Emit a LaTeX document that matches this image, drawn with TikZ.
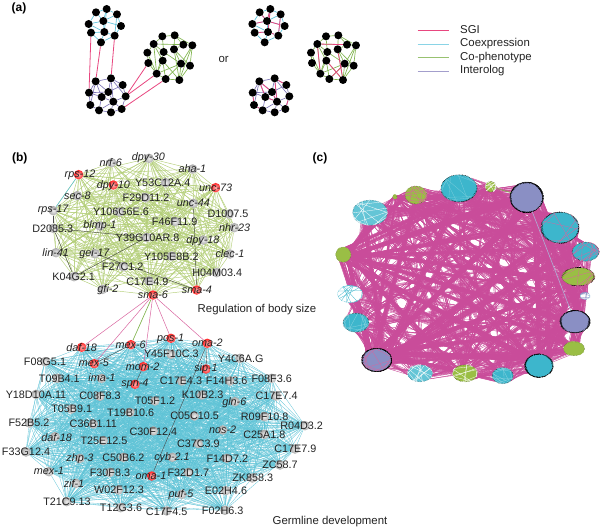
\documentclass[tikz,border=0pt]{standalone}
\usepackage{fontspec}
\setmainfont{Liberation Sans}
\usepackage{xcolor}
\definecolor{sgipink}{HTML}{E8467F}
\definecolor{coexpblue}{HTML}{58C2DB}
\definecolor{cophengreen}{HTML}{7FB34C}
\definecolor{interpurple}{HTML}{7C74B6}
\definecolor{linkpink}{HTML}{D9659F}
\definecolor{bodygreen}{HTML}{B3CE78}
\definecolor{germblue}{HTML}{5FC3D6}
\definecolor{massmagenta}{HTML}{C94C9A}
\definecolor{blobcyan}{HTML}{3DB6CC}
\definecolor{blobgreen}{HTML}{9ABE45}
\definecolor{blobpurple}{HTML}{8A8FC4}
\definecolor{inktext}{HTML}{222222}
\usetikzlibrary{shapes.geometric,backgrounds}

\begin{document}
\begin{tikzpicture}[
  x=1pt, y=-1pt,
  font=\fontsize{10.8}{12}\selectfont,
  panel/.style={font=\fontsize{12}{14}\selectfont\bfseries, inner sep=0pt},
  plain/.style={font=\fontsize{11.4}{13}\selectfont, inner sep=0pt, text=inktext},
  dot/.style={circle, fill=black, inner sep=0pt, minimum size=8pt},
  gene/.style={circle, inner sep=0pt, minimum size=9.5pt, shading=radial, inner color=gray!12, outer color=gray!68},
  hit/.style={circle, inner sep=0pt, minimum size=9.5pt, shading=radial, inner color=red!30!white, outer color=red!85},
  genelabel/.style={inner sep=0pt, text=inktext},
  sgi/.style={sgipink, line width=.8pt},
  coexp/.style={coexpblue, line width=.65pt},
  cophen/.style={cophengreen, line width=.65pt},
  interolog/.style={interpurple, line width=.65pt},
  blob/.style={ellipse, inner sep=0pt, draw=black, dash pattern=on .5pt off 1pt, line width=.5pt},
  cyanblob/.style={blob, fill=blobcyan},
  paleblob/.style={blob, fill=blobcyan!80!white, draw=blobcyan!60!black},
  openblob/.style={blob, fill=white, draw=blobcyan},
  greenblob/.style={blob, fill=blobgreen, draw=blobgreen!50!black},
  ringblob/.style={blob, fill=blobcyan},
  purpleblob/.style={blob, fill=blobpurple}
]
  \useasboundingbox (0,0) rectangle (600,530);
  \pgfmathsetseed{4711}

  % panel labels
  \node[panel] (laba) at (19,8.5) {(a)};
  \node[panel] (labb) at (19.7,158) {(b)};
  \node[panel] (labc) at (320,158) {(c)};
  \node[plain] (orword) at (223.7,59.3) {or};

  % legend
  \foreach \nm/\yy/\txt/\col in {leg1/30.3/SGI/sgipink, leg2/44/Coexpression/coexpblue!70!white,
      leg3/57.8/Co-phenotype/cophengreen!80!white, leg4/71.5/Interolog/interpurple!70!white} {
    \coordinate (\nm a) at (417.5,\yy);
    \coordinate (\nm b) at (449,\yy);
    \draw[\col, line width=.8pt] (\nm a) -- (\nm b);
    \node[plain, anchor=west] (\nm t) at (460,\yy-.6) {\txt};
  }

  % (a) the same modules twice
  \begin{scope}[x=.33333pt, y=-.33333pt]
    \foreach \p/\dx in {l/0, r/491} {
      \foreach \i/\xx/\yy in {1/288/37, 2/320/27, 3/351/43, 4/266/72, 5/310/63, 6/363/78,
          7/273/98, 8/313/96, 9/344/107, 10/303/127}
        \node[dot] (\p a\i) at (\xx+\dx,\yy) {};
      \foreach \i/\xx/\yy in {1/287/244, 2/333/235, 3/368/255, 4/267/278, 5/325/276, 6/305/291,
          7/377/289, 8/340/305, 9/271/315, 10/297/331, 11/333/337, 12/365/327}
        \node[dot] (\p b\i) at (\xx+\dx,\yy) {};
      \foreach \i/\xx/\yy in {1/487/109, 2/524/106, 3/461/132, 4/550/134, 5/577/136, 6/491/156,
          7/522/148, 8/442/158, 9/445/189, 10/488/182, 11/543/191, 12/570/197, 13/470/221,
          14/497/237, 15/538/240}
        \node[dot] (\p c\i) at (\xx+\dx,\yy) {};
    }
  \end{scope}
  \begin{pgfonlayer}{background}
    \foreach \p in {l,r} {
      \foreach \u/\v in {1/2,2/3,1/4,1/5,2/5,2/8,3/5,3/6,4/5,4/7,4/8,5/8,5/6,6/9,7/8,8/9,7/10,8/10,9/10,3/9}
        \draw[coexp] (\p a\u) -- (\p a\v);
      \foreach \u/\v in {1/2,2/3,1/4,1/5,2/5,3/7,3/5,2/8,4/9,4/6,1/6,1/9,5/6,5/8,6/8,6/10,7/8,7/12,8/12,8/11,8/10,9/10,10/11,11/12,4/5,2/7}
        \draw[interolog] (\p b\u) -- (\p b\v);
      \foreach \u/\v in {1/2,1/3,2/4,2/5,4/5,3/8,8/9,9/13,13/14,14/15,15/12,12/5,11/5,3/6,3/4,3/13,8/13,6/13,6/11,7/11,7/12,10/13,10/14,11/14,11/15,11/13,1/6,4/7,5/15,2/7,3/10,7/15,10/15}
        \draw[cophen] (\p c\u) -- (\p c\v);
    }
    \foreach \u/\v in {a7/b4, a10/b1, a9/b2, c9/b7, c13/b7, c14/b12}
      \draw[sgi] (l\u) -- (l\v);
    \foreach \u/\v in {a1/a5, a2/a5, a2/a8, a4/a5, a5/a6, a7/a8, a8/a9, a3/a9,
        b2/b3, b1/b6, b4/b9, b5/b8, b2/b8, b9/b10, b7/b12, b6/b8, b1/b5,
        c3/c4, c3/c13, c7/c15, c11/c14, c10/c15}
      \draw[sgi] (r\u) -- (r\v);
  \end{pgfonlayer}

  % (b) regulation of body size
  \begin{scope}[shift={(0,140)}, x=.33333pt, y=-.33333pt]
    \foreach \xx/\yy/\lx/\ly/\st/\txt [count=\i] in {
        236/104/240/105/hit/\textit{rps-12}, 335/68/332/68/gene/\textit{nrf-6},
        447/55/445/53/gene/\textit{dpy-30}, 578/87/577/86/gene/\textit{aha-1},
        340/135/340/137/hit/\textit{dpy-10}, 497/128/488/128/gene/Y53C12A.4,
        647/143/647/143/hit/\textit{unc-73}, 232/167/232/167/gene/\textit{sec-8},
        437/173/438/172/gene/F29D11.2, 580/190/580/189/gene/\textit{unc-44},
        688/222/684/220/gene/D1007.5, 160/212/160/211/gene/\textit{rps-17},
        358/216/363/215/gene/Y106G6E.6, 525/245/524/245/gene/F46F11.9,
        703/263/704/263/gene/\textit{nhr-23}, 160/265/158/265/gene/D2085.3,
        300/258/300/257/gene/\textit{blmp-1}, 440/292/443/292/gene/Y39G10AR.8,
        610/300/609/301/gene/\textit{dpy-18}, 168/338/167/337/gene/\textit{lin-41},
        285/341/284/341/gene/\textit{gei-17}, 690/342/690/342/gene/\textit{clec-1},
        515/349/514/350/gene/Y105E8B.2, 370/380/368/381/gene/F27C1.2,
        222/410/221/410/gene/K04G2.1, 650/398/652/399/gene/H04M03.4,
        447/423/442/424/gene/C17E4.9, 308/448/324/448/gene/\textit{gfi-2},
        590/450/591/449/hit/\textit{sma-4}, 459/465/459/465/hit/\textit{sma-6}} {
      \node[\st] (t\i) at (\xx,\yy) {};
      \node[genelabel] (tl\i) at (\lx,\ly) {\txt};
    }
  \end{scope}

  % (b) germline development
  \begin{scope}[shift={(0,325)}, x=.33333pt, y=-.33333pt]
    \foreach \xx/\yy/\lx/\ly/\st/\txt [count=\i] in {
        245/67/245/67/hit/\textit{daf-18}, 393/59/392/58/hit/\textit{mex-6},
        513/40/512/42/hit/\textit{pos-1}, 622/55/622/54/hit/\textit{oma-2},
        513/88/514/87/gene/Y45F10C.3, 720/100/722/100/gene/Y4C6A.G,
        135/110/135/110/gene/F08G5.1, 283/116/282/115/hit/\textit{mex-5},
        430/125/428/125/hit/\textit{mom-2}, 618/132/618/131/hit/\textit{sip-1},
        172/160/178/160/gene/T09B4.1, 305/160/306/158/gene/\textit{ima-1},
        405/178/405/178/hit/\textit{spn-4}, 545/168/543/167/gene/C17E4.3,
        690/168/680/167/gene/F14H3.6, 815/160/815/160/gene/F08F3.6,
        108/208/108/208/gene/Y18D10A.11, 300/214/300/213/gene/C08F8.3,
        465/228/465/228/gene/T05F1.2, 605/210/608/210/gene/K10B2.3,
        705/230/703/232/gene/\textit{gln-6}, 828/213/830/213/gene/C17E7.4,
        215/252/215/252/gene/T05B9.1, 390/262/392/263/gene/T19B10.6,
        583/273/584/273/gene/C05C10.5, 793/275/794/275/gene/R09F10.8,
        88/294/87/294/gene/F52B5.2, 280/297/280/297/gene/C36B1.11,
        915/302/905/302/gene/R04D3.2, 460/318/460/319/gene/C30F12.4,
        668/315/668/315/gene/\textit{nos-2}, 793/328/793/328/gene/C25A1.8,
        165/335/170/337/gene/\textit{daf-18}, 310/347/312/347/gene/T25E12.5,
        595/356/595/356/gene/C37C3.9, 78/381/78/380/gene/F33G12.4,
        885/372/886/372/gene/C17E7.9, 240/400/240/401/gene/\textit{zhp-3},
        370/397/370/397/gene/C50B6.2, 517/397/516/397/gene/\textit{cyb-2.1},
        680/400/682/400/gene/F14D7.2, 840/420/840/420/gene/ZC58.7,
        147/440/147/438/gene/\textit{mex-1}, 330/442/330/442/gene/F30F8.3,
        455/453/453/453/hit/\textit{oma-1}, 565/442/565/442/gene/F32D1.7,
        757/459/758/459/gene/ZK858.3, 228/475/222/475/gene/\textit{zif-1},
        677/497/678/497/gene/E02H4.6, 355/495/357/494/gene/W02F12.3,
        545/508/543/508/gene/\textit{puf-5}, 200/530/201/530/gene/T21C9.13,
        362/548/363/548/gene/T12G3.6, 500/558/500/559/gene/C17F4.5,
        675/556/668/556/gene/F02H6.3} {
      \node[\st] (g\i) at (\xx,\yy) {};
      \node[genelabel] (gl\i) at (\lx,\ly) {\txt};
    }
  \end{scope}

  \node[plain] (bodyname) at (257,310) {Regulation of body size};
  \node[plain] (germname) at (330,522) {Germline development};

  \begin{pgfonlayer}{background}
    \foreach \i in {1,...,30}
      \foreach \j in {1,...,30} {
        \ifnum\j>\i
          \pgfmathrandominteger{\hit}{0}{9}
          \ifnum\hit<7 \draw[bodygreen, line width=.45pt] (t\i) -- (t\j); \fi
        \fi
      }
    \foreach \i in {1,...,55}
      \foreach \j in {1,...,55} {
        \ifnum\j>\i
          \pgfmathrandominteger{\hit}{0}{9}
          \ifnum\hit<8 \draw[germblue, line width=.3pt] (g\i) -- (g\j); \fi
        \fi
      }
    \draw[coexpblue, line width=.5pt] (t1) -- (t12);
    \foreach \u/\v in {16/25, 16/18, 21/29, 25/18, 10/29, 12/16}
      \draw[black!70, line width=.4pt] (t\u) -- (t\v);
    \foreach \u/\v in {2/8, 9/13, 4/45, 4/10}
      \draw[black!70, line width=.4pt] (g\u) -- (g\v);
    \foreach \v in {1,8,3,4,9}
      \draw[linkpink, line width=.5pt] (t30) -- (g\v);
    \draw[cophen] (t30) -- (g2);
  \end{pgfonlayer}

  % (c) modules and the SGI between them
  \begin{scope}[shift={(320,140)}, x=.33333pt, y=-.33333pt]
    \foreach \xx/\yy/\ww/\hh/\st/\chd/\fz [count=\i] in {
        150/218/35/25/paleblob/white/0, 225/170/4/4/greenblob/blobgreen/0,
        288/165/22/18/greenblob/linkpink/0, 417/145/36/27/cyanblob/blobcyan!70!white/8,
        512/140/11/11/greenblob/white/0, 620/172/33/30/purpleblob/blobpurple/90,
        720/263/38/31/ringblob/linkpink/25, 797/335/27/19/cyanblob/linkpink/0,
        775/410/33/18/greenblob/linkpink/20, 795/468/10/7/openblob/blobpurple/0,
        765/545/30/22/purpleblob/blobpurple/70, 762/626/21/14/greenblob/blobgreen/0,
        657/677/28/23/ringblob/blobcyan/70, 548/707/21/16/cyanblob/blobcyan!60!white/0,
        435/700/25/17/greenblob/white/0, 300/700/25/17/paleblob/white/0,
        170/660/30/23/purpleblob/linkpink/80, 108/548/26/19/cyanblob/blobcyan!60!white/0,
        90/462/25/17/openblob/blobcyan/0, 70/344/15/15/greenblob/blobgreen/0} {
      \node[\st, minimum width=\ww pt, minimum height=\hh pt] (m\i) at (\xx,\yy) {};
      \foreach \k in {1,...,14} {
        \pgfmathrandominteger{\aa}{0}{359}
        \pgfmathrandominteger{\bb}{0}{359}
        \draw[\chd, line width=.3pt] (m\i.\aa) -- (m\i.\bb);
      }
      \ifnum\fz>0
        \foreach \k in {1,...,\fz} {
          \pgfmathrandominteger{\aa}{0}{359}
          \pgfmathrandominteger{\bb}{15}{45}
          \pgfmathtruncatemacro{\cc}{\aa+\bb}
          \draw[black, line width=.45pt, dash pattern=on .5pt off 1.2pt] (m\i.\aa) -- (m\i.\cc);
        }
      \fi
    }
  \end{scope}
  \begin{pgfonlayer}{background}
    \foreach \i/\wi in {1/2,2/1,3/2,4/2,5/1,6/5,7/3,8/2,9/3,10/1,11/3,12/2,13/4,14/1,15/2,16/1,17/8,18/1,19/1,20/7}
      \foreach \j/\wj in {1/2,2/1,3/2,4/2,5/1,6/5,7/3,8/2,9/3,10/1,11/3,12/2,13/4,14/1,15/2,16/1,17/8,18/1,19/1,20/7} {
        \ifnum\j>\i
          \pgfmathtruncatemacro{\nlines}{1.7*\wi*\wj+2}
          % the bundle leaves each module on the side that faces the other
          \pgfmathanglebetweenpoints{\pgfpointanchor{m\i}{center}}{\pgfpointanchor{m\j}{center}}
          \pgfmathtruncatemacro{\ba}{\pgfmathresult}
          \pgfmathtruncatemacro{\bb}{\ba+180}
          \pgfmathrandominteger{\ca}{-35}{35}
          \pgfmathrandominteger{\cb}{-35}{35}
          \foreach \k in {1,...,\nlines} {
            \pgfmathrandominteger{\aa}{-14}{14}
            \pgfmathrandominteger{\cc}{-14}{14}
            \pgfmathtruncatemacro{\pa}{\ba+\ca+\aa}
            \pgfmathtruncatemacro{\pb}{\bb+\cb+\cc}
            \draw[massmagenta, line width=.4pt] (m\i.\pa) -- (m\j.\pb);
          }
        \fi
      }
    \draw[cophen] (m5) -- (m6);
    \draw[blobpurple!70!white, line width=.6pt] (m6) -- (m11);
  \end{pgfonlayer}
\end{tikzpicture}
\end{document}
